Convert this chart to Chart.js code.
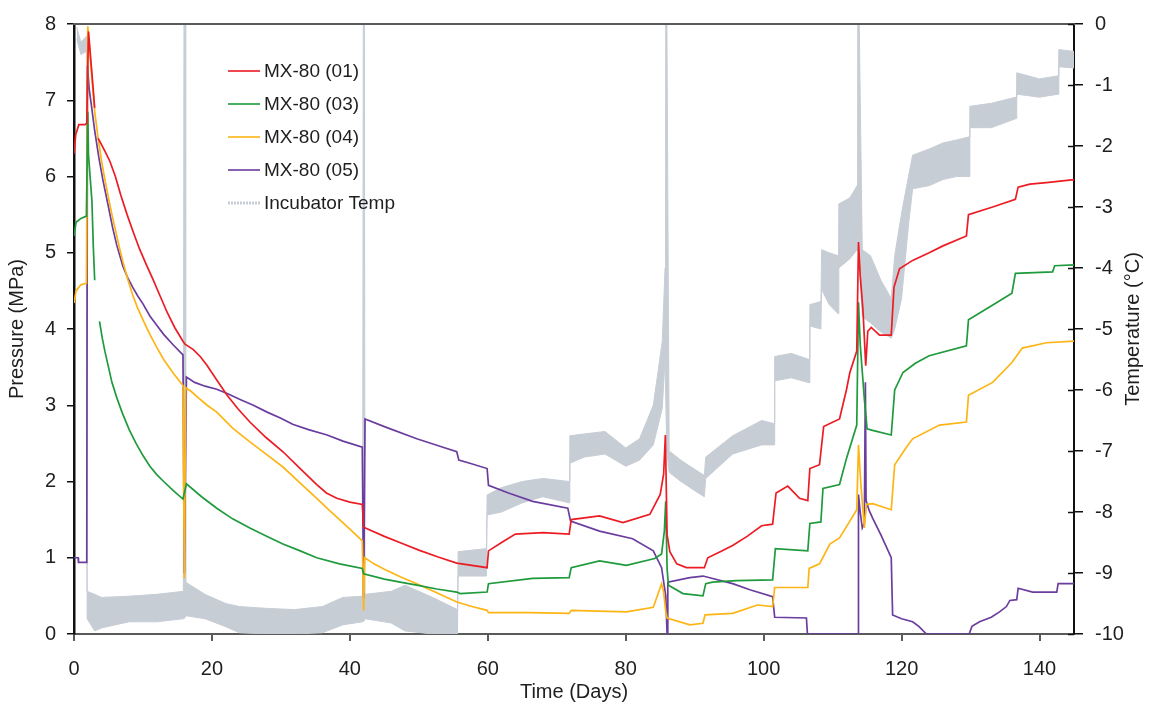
<!DOCTYPE html>
<html>
<head>
<meta charset="utf-8">
<title>MX-80 swelling pressure</title>
<script src="https://cdn.jsdelivr.net/npm/chart.js@4.4.1/dist/chart.umd.min.js"></script>
<style>
  html, body { margin: 0; padding: 0; background: #fff; }
  #chart { display: block; }
</style>
</head>
<body>
<canvas id="chart" width="1155" height="708"></canvas>
<script>
// Pressure traces, [day, MPa]; a null value breaks the line
const mx01 = [[0,6.3],[0.25,6.55],[0.7,6.68],[1.6,6.68],[1.85,6.7],[2.1,7.9],[2.6,7.35],[3.0,6.9],[3.2,null],[3.5,6.5],[3.8,6.45],[4.5,6.33],[5.2,6.2],[6,6.0],[6.8,5.75],[7.7,5.5],[8.6,5.27],[9.5,5.05],[10.5,4.84],[11.5,4.64],[12.5,4.43],[13.5,4.22],[14.6,4.02],[15.8,3.84],[16.1,3.8],[17.3,3.73],[18.3,3.64],[19.3,3.52],[20.7,3.33],[22.2,3.13],[23.8,2.95],[25.5,2.78],[27.8,2.58],[30.3,2.39],[32.8,2.17],[35.2,1.96],[36.6,1.85],[38.1,1.78],[40,1.73],[41.8,1.7],[42.0,1.4],[45,1.28],[47.5,1.19],[50,1.1],[52.8,1.01],[55.5,0.93],[59.9,0.87],[60.1,1.09],[62,1.2],[64,1.31],[68,1.33],[71.8,1.31],[72.1,1.5],[76.2,1.55],[79.6,1.46],[83.5,1.57],[85,1.83],[85.5,2.1],[85.75,2.61],[86.0,1.3],[86.4,1.08],[87.4,0.92],[88.8,0.87],[91.4,0.87],[91.9,1.0],[93.7,1.08],[95.5,1.16],[97.6,1.28],[99.7,1.42],[101.3,1.44],[101.8,1.85],[103.5,1.94],[105.2,1.78],[106.4,1.75],[106.7,2.17],[108.1,2.22],[108.7,2.72],[111,2.82],[112,3.2],[112.5,3.43],[113.5,3.71],[113.75,5.14],[114.0,4.7],[114.4,4.25],[114.8,3.52],[115.1,3.97],[115.6,4.02],[116.8,3.92],[118.5,3.92],[118.9,4.55],[119.7,4.79],[121.6,4.9],[124,5.0],[126,5.09],[129.4,5.22],[129.7,5.5],[133.2,5.6],[136.5,5.7],[136.9,5.86],[138.6,5.9],[141,5.92],[145,5.96]];

const mx03 = [[0,5.22],[0.3,5.4],[1.0,5.45],[1.8,5.48],[2.0,6.85],[2.1,6.28],[2.6,5.68],[2.8,5.08],[3.0,4.64],[3.3,null],[3.7,4.1],[4.1,3.88],[4.5,3.7],[5,3.5],[5.5,3.3],[6.2,3.1],[7,2.9],[8,2.68],[9,2.5],[10,2.34],[11,2.2],[12,2.09],[13,2.0],[14.4,1.88],[15.8,1.77],[16.3,1.97],[18.5,1.8],[20.7,1.65],[23,1.51],[25.5,1.39],[28,1.28],[30.3,1.18],[32.8,1.09],[35.2,1.0],[38.5,0.92],[41.8,0.86],[42.0,0.79],[45,0.72],[47.3,0.68],[49.7,0.64],[52.6,0.59],[55.5,0.55],[56,0.53],[59.9,0.55],[60.1,0.66],[66.5,0.73],[71.8,0.74],[72.1,0.87],[76.2,0.96],[80.1,0.9],[84.2,0.99],[85.2,1.05],[85.6,1.35],[85.8,1.74],[86.0,0.85],[86.2,0.64],[88.3,0.53],[91.2,0.5],[91.6,0.66],[92.6,0.68],[96,0.7],[101.3,0.71],[101.7,1.12],[106.4,1.09],[106.7,1.45],[108.3,1.47],[108.6,1.91],[111,1.96],[112,2.3],[113.5,2.74],[113.75,4.35],[114.0,3.8],[114.6,3.08],[115,2.69],[115.8,2.67],[118.5,2.61],[119,3.2],[120.2,3.43],[122,3.55],[124,3.65],[129.4,3.78],[129.7,4.12],[133.7,4.34],[136,4.47],[136.5,4.73],[141.9,4.75],[142.2,4.83],[145,4.84]];

const mx04 = [[0,4.34],[0.3,4.5],[1.0,4.58],[1.8,4.6],[2.0,7.97],[2.5,7.4],[3,6.85],[3.5,6.5],[4,6.2],[4.5,5.95],[5,5.72],[5.5,5.5],[6,5.3],[6.5,5.1],[7.1,4.88],[7.8,4.65],[8.5,4.45],[9.2,4.28],[10,4.12],[11,3.93],[12,3.76],[13,3.6],[14.4,3.42],[15.8,3.26],[16.0,0.73],[16.2,3.23],[17,3.18],[18,3.1],[19.3,3.0],[20.7,2.91],[23,2.7],[25.5,2.52],[28,2.35],[30.3,2.19],[32.8,1.98],[35.2,1.78],[36.8,1.64],[38.5,1.5],[40.2,1.36],[41.8,1.22],[42.0,0.31],[42.15,1.0],[43.5,0.92],[45,0.85],[47.3,0.75],[49.7,0.66],[52.6,0.54],[55.5,0.42],[57.7,0.36],[59.9,0.31],[60.1,0.28],[66,0.28],[71.8,0.27],[72.1,0.31],[80.1,0.29],[84,0.35],[85.2,0.66],[85.5,0.55],[85.8,0.3],[86,0.21],[89.3,0.12],[91.2,0.14],[91.5,0.25],[95.5,0.27],[99.1,0.38],[101.3,0.36],[101.6,0.61],[106.4,0.61],[106.6,0.86],[108.1,0.92],[109.6,1.18],[111,1.26],[112.5,1.48],[113.5,1.63],[113.75,2.48],[114.1,1.96],[114.6,1.39],[114.9,1.7],[115.8,1.71],[118.5,1.63],[119,2.22],[120.7,2.45],[121.6,2.56],[125.5,2.74],[129.4,2.78],[129.7,3.13],[133.2,3.3],[136,3.56],[137.5,3.75],[141,3.82],[145,3.84]];

const mx05 = [[0,1.0],[0.6,1.0],[0.65,0.94],[1.85,0.94],[1.95,7.45],[2.2,7.15],[2.5,6.95],[3,6.6],[3.6,6.25],[4.2,5.95],[5,5.6],[5.6,5.33],[6.2,5.1],[7.1,4.82],[7.8,4.67],[8.5,4.55],[9.2,4.44],[10,4.33],[11,4.17],[12,4.05],[13,3.93],[14.4,3.79],[15.8,3.66],[16.0,0.8],[16.3,3.37],[17.5,3.3],[19,3.25],[20.7,3.21],[22.3,3.15],[24,3.08],[26,3.0],[28,2.91],[30,2.83],[31.7,2.75],[34,2.68],[36.7,2.61],[39,2.53],[41.8,2.45],[42.0,0.47],[42.2,2.82],[45,2.72],[49.7,2.56],[53.5,2.45],[55.5,2.39],[55.8,2.28],[57.4,2.24],[59.9,2.17],[60.1,1.95],[63,1.85],[66.5,1.74],[71.6,1.65],[72,1.48],[76.2,1.35],[81,1.25],[84,1.09],[85.2,0.87],[85.8,0.5],[86.0,0],[86.1,0.68],[89.3,0.74],[91.2,0.76],[95.5,0.66],[98,0.58],[101.3,0.49],[101.6,0.22],[106.2,0.21],[106.35,0],[113.7,0],[113.75,1.83],[114.0,1.6],[114.3,1.39],[114.6,1.45],[114.75,3.3],[114.85,1.75],[115.3,1.62],[115.8,1.52],[117,1.3],[118.5,1.0],[118.7,0.25],[120,0.2],[121.6,0.16],[122.5,0.1],[123.6,0],[129.8,0],[130.2,0.1],[131.3,0.16],[133,0.22],[134.2,0.29],[135.2,0.36],[135.7,0.44],[136.7,0.45],[136.9,0.6],[139,0.55],[142.5,0.55],[142.7,0.66],[145,0.66]];

// Incubator temperature swings fast, so it is kept as a band: [day, upper °C, lower °C]
const incubatorBand = [[0.4,-0.05,-0.25],[1.0,-0.3,-0.5],[1.8,-0.2,-0.45],[1.9,-9.3,-9.75],[3,-9.35,-9.95],[4,-9.4,-9.9],[8,-9.38,-9.8],[12,-9.35,-9.8],[15.85,-9.3,-9.75],[15.95,0.5,-9.75],[16.1,0.5,-9.72],[16.2,-9.15,-9.7],[19,-9.35,-9.75],[22,-9.5,-9.88],[24,-9.55,-9.98],[28,-9.58,-10],[32,-9.6,-10],[36,-9.55,-9.98],[39,-9.4,-9.85],[41.85,-9.38,-9.8],[41.95,0.5,-9.8],[42.1,0.5,-9.78],[42.2,-9.35,-9.75],[46,-9.3,-9.82],[48,-9.2,-9.95],[52,-9.4,-10],[55.6,-9.6,-10],[55.7,-8.65,-9.05],[59.8,-8.6,-9.05],[59.9,-7.72,-8.05],[62,-7.6,-8.0],[65,-7.5,-7.85],[68,-7.45,-7.75],[71.8,-7.5,-7.85],[71.9,-6.75,-7.2],[74,-6.72,-7.1],[77,-6.68,-7.05],[80,-6.95,-7.25],[82,-6.8,-7.15],[84,-6.25,-6.9],[85.3,-5.2,-6.3],[85.7,-4.0,-5.5],[85.8,0.5,-5.5],[85.95,0.5,-7.0],[86.3,-7.0,-7.35],[88,-7.15,-7.5],[90,-7.3,-7.65],[91.4,-7.4,-7.75],[91.6,-7.1,-7.45],[95.5,-6.75,-7.05],[99.7,-6.5,-6.9],[101.5,-6.55,-6.9],[101.6,-5.45,-5.85],[104,-5.4,-5.8],[106.6,-5.5,-5.88],[106.7,-4.6,-4.95],[108.3,-4.55,-5.0],[108.4,-3.7,-4.35],[109.5,-3.75,-4.6],[110.8,-3.8,-4.75],[110.9,-2.95,-4.0],[112.5,-2.85,-3.85],[113.55,-2.65,-3.7],[113.65,0.5,-3.7],[113.8,0.5,-3.75],[114.3,-3.7,-4.8],[115.5,-3.8,-4.9],[117,-4.2,-5.05],[118.5,-4.5,-5.15],[119,-3.8,-5.0],[120,-3.1,-4.5],[121,-2.5,-3.3],[121.6,-2.15,-2.7],[124,-2.05,-2.65],[126,-1.95,-2.55],[128,-1.9,-2.5],[129.8,-1.85,-2.5],[129.9,-1.35,-1.7],[133,-1.3,-1.7],[136.6,-1.2,-1.55],[136.7,-0.8,-1.15],[140,-0.9,-1.2],[142.7,-0.85,-1.15],[142.8,-0.42,-0.7],[145,-0.45,-0.72]];

// Axis ticks
const dayTicks = [0, 20, 40, 60, 80, 100, 120, 140];
const pressureTicks = [0, 1, 2, 3, 4, 5, 6, 7, 8];
const tempTicks = [0, -1, -2, -3, -4, -5, -6, -7, -8, -9, -10];

const FONT = '"Liberation Sans", Arial, sans-serif';
const TEXT = '#1e1e1e';
const GREY = 'rgb(199,205,213)';

const toXY = pts => pts.map(p => ({ x: p[0], y: p[1] }));

function trace (label, color, pts) {
  return {
    label,
    data: toXY(pts),
    borderColor: color,
    backgroundColor: color,
    borderWidth: 1.7,
    pointRadius: 0,
    tension: 0,
    spanGaps: false,
    yAxisID: 'y',
    order: 1
  };
}

const datasets = [
  trace('MX-80 (01)', '#ec1c24', mx01),
  trace('MX-80 (03)', '#1f9a3c', mx03),
  trace('MX-80 (04)', '#fdb515', mx04),
  trace('MX-80 (05)', '#6a3d9e', mx05),
  {
    label: 'Incubator Temp',
    data: incubatorBand.map(r => ({ x: r[0], y: r[1] })),
    borderColor: GREY,
    borderWidth: 1,
    pointRadius: 0,
    fill: false,
    yAxisID: 'y2',
    order: 2
  },
  {
    label: 'Incubator Temp (low)',
    noLegend: true,
    data: incubatorBand.map(r => ({ x: r[0], y: r[2] })),
    borderColor: GREY,
    backgroundColor: GREY,
    borderWidth: 1,
    pointRadius: 0,
    fill: '-1',
    yAxisID: 'y2',
    order: 2
  }
];

// Top frame line, inner half of the right ticks, right title and the legend box
const overlay = {
  id: 'overlay',
  afterDraw (chart) {
    const { ctx, chartArea: a, scales } = chart;
    ctx.save();

    ctx.strokeStyle = '#5a5a5a';
    ctx.lineWidth = 2;
    ctx.beginPath();
    ctx.moveTo(a.left - 1, a.top);
    ctx.lineTo(a.right + 1, a.top);
    ctx.stroke();

    ctx.strokeStyle = '#111';
    ctx.lineWidth = 1.5;
    tempTicks.forEach(v => {
      const y = Math.round(scales.y2.getPixelForValue(v)) + 0.5;
      ctx.beginPath();
      ctx.moveTo(a.right - 6, y);
      ctx.lineTo(a.right, y);
      ctx.stroke();
    });

    ctx.fillStyle = TEXT;
    ctx.font = '20px ' + FONT;
    ctx.textAlign = 'center';
    ctx.textBaseline = 'middle';
    ctx.translate(1133, (a.top + a.bottom) / 2);
    ctx.rotate(-Math.PI / 2);
    ctx.fillText('Temperature (°C)', 0, 0);
    ctx.setTransform(1, 0, 0, 1, 0, 0);

    let y = 71;
    ctx.font = '19px ' + FONT;
    ctx.textAlign = 'left';
    chart.data.datasets.forEach(ds => {
      if (ds.noLegend) return;
      ctx.strokeStyle = ds.borderColor;
      ctx.lineWidth = ds.yAxisID === 'y2' ? 3 : 1.6;
      if (ds.yAxisID === 'y2') ctx.setLineDash([2, 1]);
      ctx.beginPath();
      ctx.moveTo(228, y);
      ctx.lineTo(260, y);
      ctx.stroke();
      ctx.setLineDash([]);
      ctx.fillStyle = TEXT;
      ctx.fillText(ds.label, 264, y + 1);
      y += 33;
    });

    ctx.restore();
  }
};

new Chart(document.getElementById('chart'), {
  type: 'line',
  data: { datasets },
  options: {
    responsive: false,
    devicePixelRatio: 1,
    animation: false,
    events: [],
    layout: { padding: { top: 18, left: 0, right: 0, bottom: 0 } },
    plugins: {
      legend: { display: false },
      tooltip: { enabled: false }
    },
    scales: {
      x: {
        type: 'linear',
        min: 0,
        max: 145,
        afterBuildTicks: s => { s.ticks = dayTicks.map(v => ({ value: v })) },
        afterFit: s => { s.height = 74 },
        grid: { drawOnChartArea: false, drawTicks: true, tickLength: 7, color: '#5a5a5a', lineWidth: 2 },
        border: { display: true, color: '#5a5a5a', width: 2 },
        ticks: { font: { family: FONT, size: 20 }, color: TEXT, padding: 16, maxRotation: 0 },
        title: { display: true, text: 'Time (Days)', font: { family: FONT, size: 20 }, color: TEXT, padding: { top: 0, bottom: 4 } }
      },
      y: {
        type: 'linear',
        position: 'left',
        min: 0,
        max: 8,
        afterBuildTicks: s => { s.ticks = pressureTicks.map(v => ({ value: v })) },
        afterFit: s => { s.width = 74 },
        grid: { drawOnChartArea: false, drawTicks: true, tickLength: 7, color: '#111', lineWidth: 1.5 },
        border: { display: true, color: '#111', width: 2.5 },
        ticks: { font: { family: FONT, size: 20 }, color: TEXT, padding: 11 },
        title: { display: true, text: 'Pressure (MPa)', font: { family: FONT, size: 20 }, color: TEXT, padding: { top: 5, bottom: 0 } }
      },
      y2: {
        type: 'linear',
        position: 'right',
        min: -10,
        max: 0,
        afterBuildTicks: s => { s.ticks = tempTicks.map(v => ({ value: v })) },
        afterFit: s => { s.width = 81 },
        grid: { drawOnChartArea: false, drawTicks: true, tickLength: 9, color: '#111', lineWidth: 1.5 },
        border: { display: true, color: '#111', width: 2 },
        ticks: { font: { family: FONT, size: 20 }, color: TEXT, padding: 12 }
      }
    }
  },
  plugins: [overlay]
});
</script>
</body>
</html>
